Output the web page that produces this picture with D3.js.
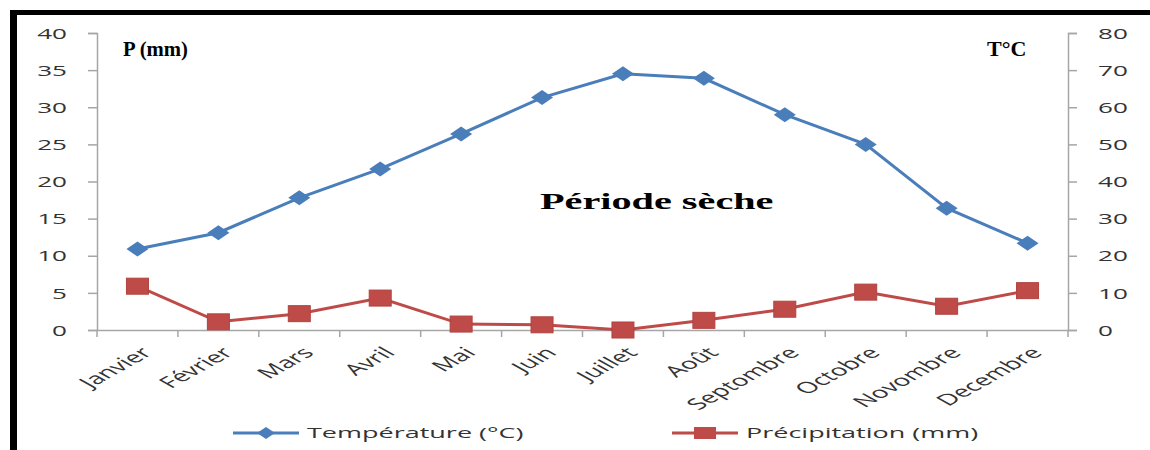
<!DOCTYPE html>
<html>
<head>
<meta charset="utf-8">
<script src="https://cdn.jsdelivr.net/npm/d3@7"></script>
<style>
  body { margin: 0; background: #fff; }
  svg { display: block; }
</style>
</head>
<body>
<svg id="chart" width="1150" height="450"></svg>
<script>
// data
var months = ["Janvier", "Février", "Mars", "Avril", "Mai", "Juin", "Juillet", "Août", "Septombre", "Octobre", "Novombre", "Decembre"]
var temperature = [10.9, 13.1, 17.8, 21.7, 26.4, 31.3, 34.5, 33.9, 29.0, 25.0, 16.4, 11.7]
var precipitation = [5.9, 1.1, 2.2, 4.3, 0.8, 0.7, 0.0, 1.3, 2.8, 5.1, 3.2, 5.3]
var leftTicks = [0, 5, 10, 15, 20, 25, 30, 35, 40]
var rightTicks = [0, 10, 20, 30, 40, 50, 60, 70, 80]

var SX = 1.8   // the source picture is stretched sideways
var blue = "#4a7ebb", red = "#be4b48", axisGray = "#a6a6a6", txt = "#333"

var svg = d3.select("#chart")

var x = d3.scaleBand().domain(months).range([97, 1068])
var y = d3.scaleLinear().domain([0, 40]).range([330, 33])
var y2 = d3.scaleLinear().domain([0, 80]).range([330, 33])
var bw = x.bandwidth()

// frame
svg.append("rect").attr("x", 10).attr("y", 10).attr("width", 7).attr("height", 440).attr("fill", "#000")
svg.append("rect").attr("x", 10).attr("y", 10).attr("width", 1140).attr("height", 5).attr("fill", "#000")

// left axis
var gl = svg.append("g").attr("transform", "translate(97,0)")
    .call(d3.axisLeft(y).tickValues(leftTicks).tickSize(9).tickSizeOuter(9))
gl.select(".domain").attr("stroke", axisGray).attr("stroke-width", 1.5)
gl.selectAll(".tick line").attr("stroke", axisGray).attr("stroke-width", 1.5)
gl.selectAll(".tick text")
    .attr("x", 0).attr("dy", "0.36em")
    .attr("transform", "translate(-30,0) scale(" + SX + ",1)")
    .attr("fill", txt).style("font", "14.5px 'Open Sans'")

// right axis
var gr = svg.append("g").attr("transform", "translate(1068,0)")
    .call(d3.axisRight(y2).tickValues(rightTicks).tickSize(9).tickSizeOuter(9))
gr.select(".domain").attr("stroke", axisGray).attr("stroke-width", 1.5)
gr.selectAll(".tick line").attr("stroke", axisGray).attr("stroke-width", 1.5)
gr.selectAll(".tick text")
    .attr("x", 0).attr("dy", "0.36em")
    .attr("transform", "translate(30,0) scale(" + SX + ",1)")
    .attr("fill", txt).style("font", "14.5px 'Open Sans'")

// x axis
var gx = svg.append("g").attr("transform", "translate(0,330)")
    .call(d3.axisBottom(x).tickSize(0).tickSizeOuter(0))
gx.select(".domain").attr("stroke", axisGray).attr("stroke-width", 1.5)
gx.selectAll(".tick text")
    .attr("x", 0).attr("y", 0).attr("dy", "0.35em")
    .attr("text-anchor", "end")
    .attr("transform", "translate(9,20) scale(" + SX + ",1) rotate(-45)")
    .attr("fill", txt).style("font", "15.5px 'Open Sans'")

var bounds = months.map(function(m) { return x(m) }).concat([x(months[months.length - 1]) + bw])
gx.selectAll("line.bound").data(bounds).enter().append("line")
    .attr("class", "bound")
    .attr("x1", function(d) { return d }).attr("x2", function(d) { return d })
    .attr("y1", 0).attr("y2", 7)
    .attr("stroke", axisGray).attr("stroke-width", 1.5)

// series
var cx = function(d, i) { return x(months[i]) + bw / 2 }

var tLine = d3.line().x(cx).y(function(d) { return y(d) })
svg.append("path").datum(temperature)
    .attr("d", tLine).attr("fill", "none").attr("stroke", blue).attr("stroke-width", 3)

var pLine = d3.line().x(cx).y(function(d) { return y(d) })
svg.append("path").datum(precipitation)
    .attr("d", pLine).attr("fill", "none").attr("stroke", red).attr("stroke-width", 3)

var diamond = function(w, h) { return "M0," + (-h / 2) + "L" + (w / 2) + ",0L0," + (h / 2) + "L" + (-w / 2) + ",0Z" }

svg.append("g").selectAll("path").data(temperature).enter().append("path")
    .attr("d", diamond(22, 15))
    .attr("transform", function(d, i) { return "translate(" + cx(d, i) + "," + y(d) + ")" })
    .attr("fill", blue)

svg.append("g").selectAll("rect").data(precipitation).enter().append("rect")
    .attr("x", function(d, i) { return cx(d, i) - 11 })
    .attr("y", function(d) { return y(d) - 8 })
    .attr("width", 22).attr("height", 16)
    .attr("fill", red).attr("stroke", "#b04340").attr("stroke-width", 1)

// annotations
svg.append("text").attr("x", 123).attr("y", 56)
    .attr("textLength", 65).attr("lengthAdjust", "spacingAndGlyphs")
    .style("font", "bold 22px 'Liberation Serif'").attr("fill", "#000").text("P (mm)")
svg.append("text").attr("x", 987).attr("y", 56)
    .style("font", "bold 22px 'Liberation Serif'").attr("fill", "#000").text("T°C")
svg.append("text").attr("transform", "translate(540,209) scale(1.75,1)")
    .style("font", "bold 23px 'Liberation Serif'").attr("fill", "#000").text("Période sèche")

// legend
var legend = [
  {name: "Température (°C)", color: blue, x: 233, shape: "diamond"},
  {name: "Précipitation (mm)", color: red, x: 672, shape: "square"}
]
var lg = svg.append("g").selectAll("g").data(legend).enter().append("g")
    .attr("transform", function(d) { return "translate(" + d.x + ",433)" })
lg.append("line").attr("x1", 0).attr("x2", 66).attr("y1", 0).attr("y2", 0)
    .attr("stroke", function(d) { return d.color }).attr("stroke-width", 3)
lg.append("path")
    .attr("d", function(d) {
      return d.shape == "diamond" ? diamond(18, 12) : "M-11,-6h22v12h-22Z"
    })
    .attr("transform", "translate(33,0)")
    .attr("fill", function(d) { return d.color })
lg.append("text").attr("transform", "translate(74,5) scale(" + SX + ",1)")
    .attr("fill", txt).style("font", "15px 'Open Sans'")
    .text(function(d) { return d.name })
</script>
</body>
</html>
